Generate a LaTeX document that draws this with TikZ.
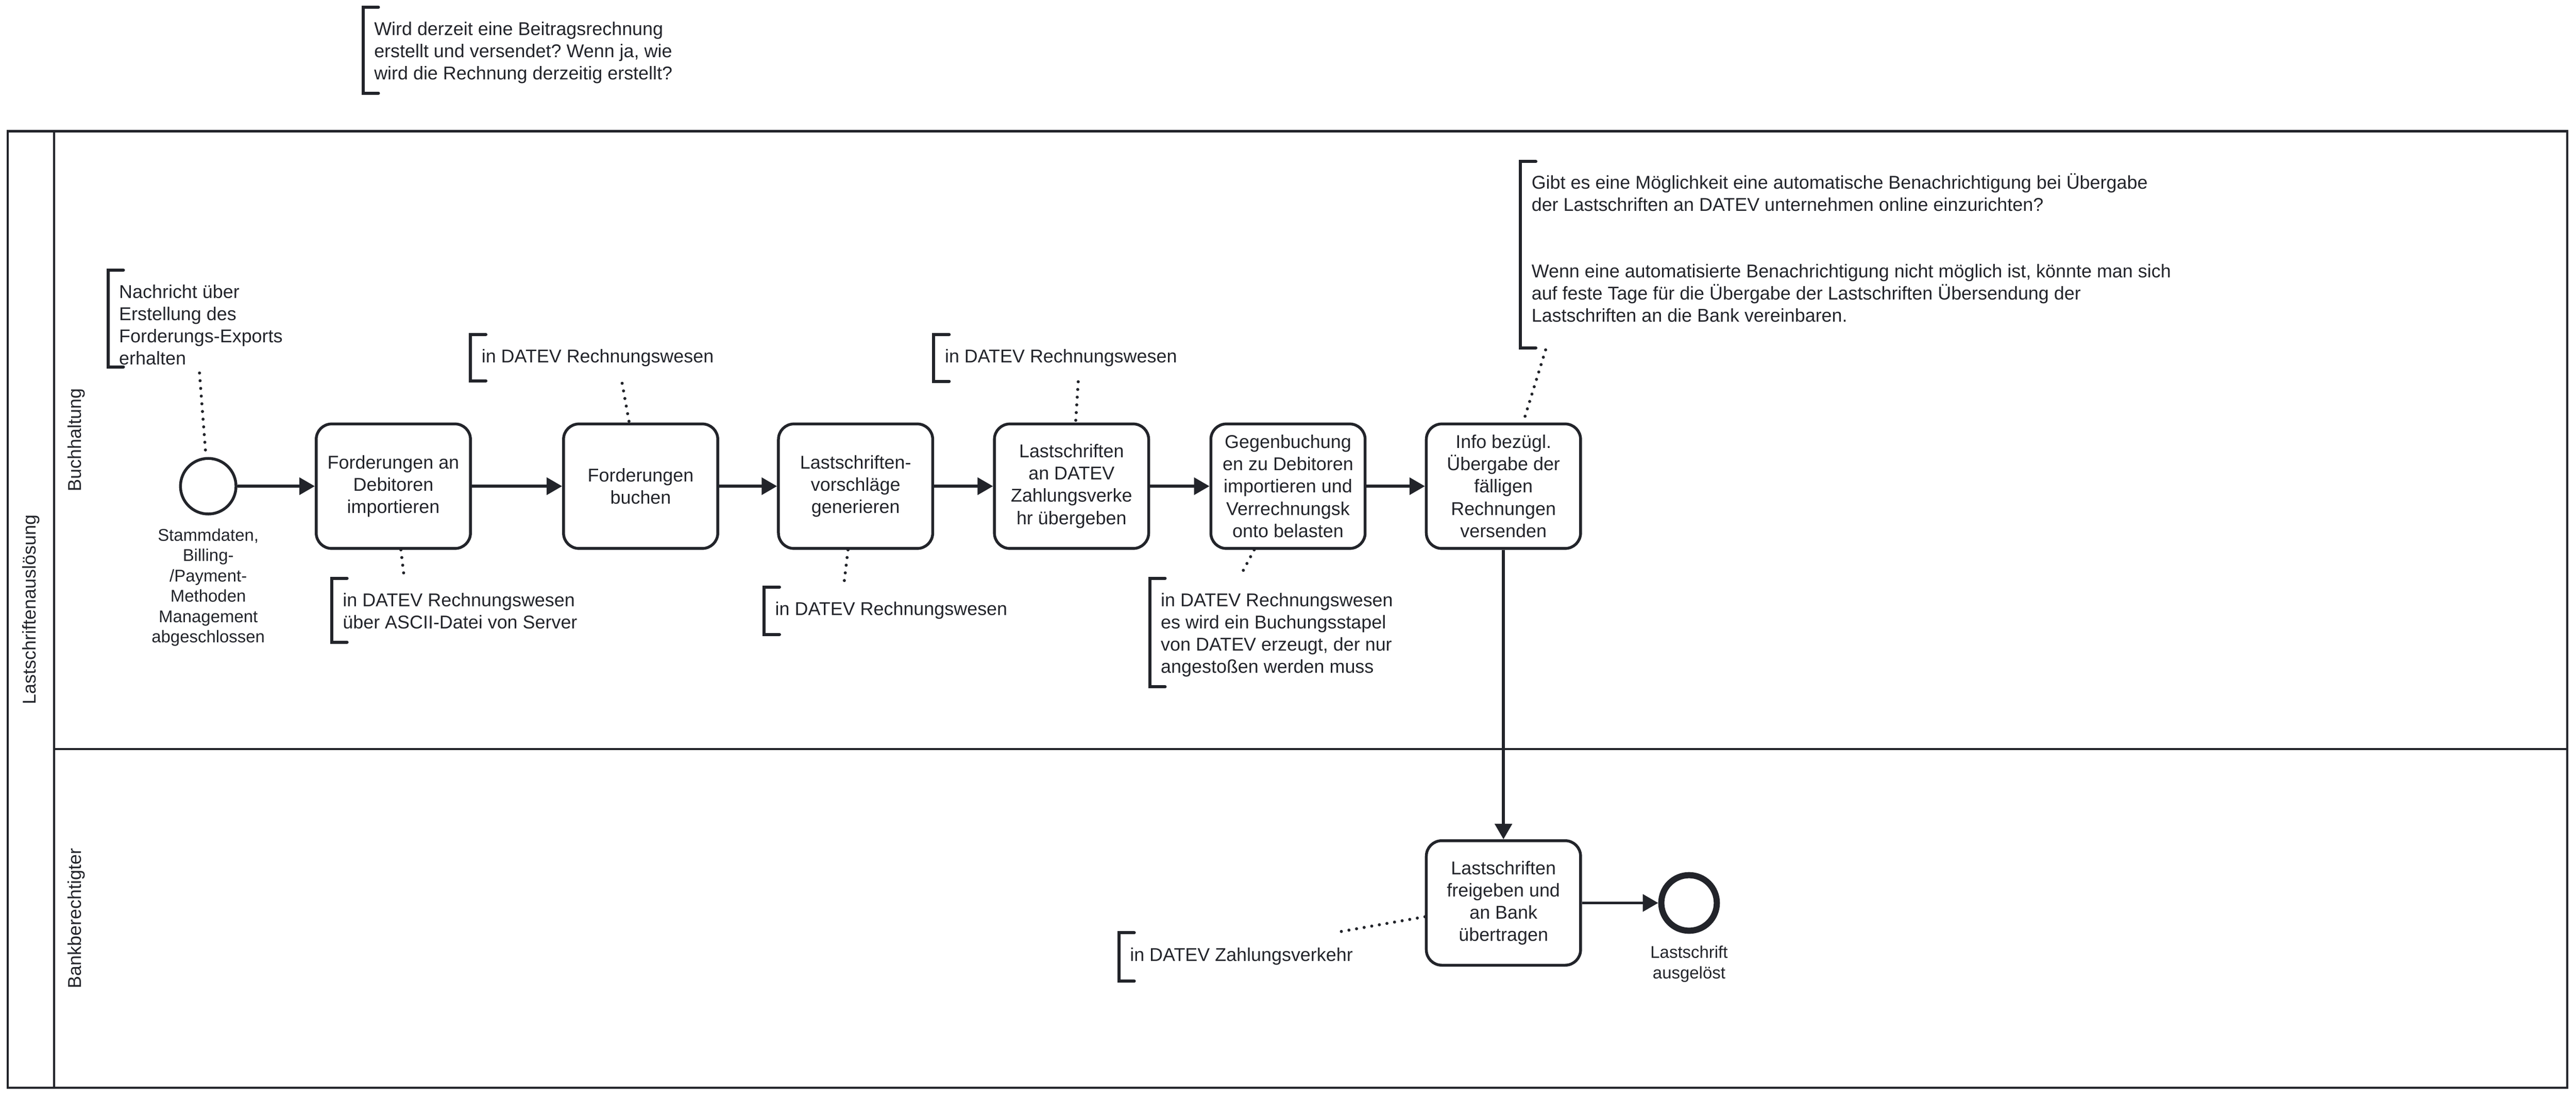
\documentclass[tikz,border=0pt]{standalone}
\usepackage{fontspec}
\setmainfont{Liberation Sans}
\usetikzlibrary{arrows.meta,positioning}
\frenchspacing

\definecolor{ink}{HTML}{22242A}
\newcommand{\taskfont}{\fontsize{10.24pt}{12.29pt}\selectfont}
\newcommand{\labelfont}{\fontsize{9.39pt}{11.27pt}\selectfont}
\newcommand{\notebracket}[3]{\draw[bracket] (#1+0.3,#2) -- (#1,#2) -- (#1,#3) -- (#1+0.3,#3);}

\begin{document}
\begin{tikzpicture}[
    every node/.style={text=ink, font=\taskfont},
    task/.style={draw=ink, line width=0.055cm, rounded corners=0.3cm, minimum width=3cm, minimum height=2.42cm, align=center, inner sep=0pt},
    startevent/.style={circle, draw=ink, line width=0.055cm, minimum size=1.08cm, inner sep=0pt},
    endevent/.style={circle, draw=ink, line width=0.12cm, minimum size=1.08cm, inner sep=0pt},
    evlabel/.style={font=\labelfont, align=center, inner sep=0pt},
    note/.style={anchor=north west, align=left, inner sep=0pt},
    bracket/.style={draw=ink, line width=0.06cm, line cap=round},
    flow/.style={draw=ink, line width=0.055cm, -{Triangle[length=0.30cm, width=0.33cm]}},
    assoc/.style={draw=ink, line width=0.06cm, line cap=round, dash pattern=on 0pt off 0.15cm},
    pool/.style={draw=ink, line width=0.045cm}
  ]
    \useasboundingbox (0,0) rectangle (50.10,-21.30);

    % Pool and lanes
    \draw[pool] (0.15,-2.55) rectangle (49.93,-21.14);
    \draw[pool] (1.05,-2.55) -- (1.05,-21.14);
    \draw[pool] (1.05,-14.56) -- (49.93,-14.56);
    \node[rotate=90] (poolname) at (0.60,-11.85) {Lastschriftenauslösung};
    \node[rotate=90] (lane1) at (1.49,-8.55) {Buchhaltung};
    \node[rotate=90] (lane2) at (1.49,-17.85) {Bankberechtigter};

    % Nodes
    \node[startevent] (start) at (4.05,-9.45) {};
    \node[evlabel, below=0.25cm of start] (startlabel) {Stammdaten,\\Billing-\\/Payment-\\Methoden\\Management\\abgeschlossen};
    \node[task] (t1) at (7.65,-9.45) {Forderungen an\\Debitoren\\importieren};
    \node[task] (t2) at (12.46,-9.45) {Forderungen\\buchen};
    \node[task] (t3) at (16.64,-9.45) {Lastschriften-\\vorschläge\\generieren};
    \node[task] (t4) at (20.84,-9.45) {Lastschriften\\an DATEV\\Zahlungsverke\\hr übergeben};
    \node[task] (t5) at (25.05,-9.45) {Gegenbuchung\\en zu Debitoren\\importieren und\\Verrechnungsk\\onto belasten};
    \node[task] (t6) at (29.24,-9.45) {Info bezügl.\\Übergabe der\\fälligen\\Rechnungen\\versenden};
    \node[task] (t7) at (29.24,-17.55) {Lastschriften\\freigeben und\\an Bank\\übertragen};
    \node[endevent] (stop) at (32.85,-17.55) {};
    \node[evlabel, below=0.23cm of stop] (stoplabel) {Lastschrift\\ausgelöst};

    % Annotations
    \notebracket{7.06}{-0.14}{-1.81}
    \node[note] (q0) at (7.27,-0.42) {Wird derzeit eine Beitragsrechnung\\erstellt und versendet? Wenn ja, wie\\wird die Rechnung derzeitig erstellt?};
    \notebracket{2.10}{-5.25}{-7.13}
    \node[note] (q1) at (2.31,-5.53) {Nachricht über\\Erstellung des\\Forderungs-Exports\\erhalten};
    \notebracket{9.15}{-6.50}{-7.40}
    \node[note] (q2) at (9.36,-6.78) {in DATEV Rechnungswesen};
    \notebracket{6.45}{-11.24}{-12.48}
    \node[note] (q3) at (6.66,-11.52) {in DATEV Rechnungswesen\\über ASCII-Datei von Server};
    \notebracket{18.16}{-6.50}{-7.41}
    \node[note] (q4) at (18.37,-6.78) {in DATEV Rechnungswesen};
    \notebracket{14.86}{-11.41}{-12.33}
    \node[note] (q5) at (15.07,-11.69) {in DATEV Rechnungswesen};
    \notebracket{22.36}{-11.24}{-13.35}
    \node[note] (q6) at (22.57,-11.52) {in DATEV Rechnungswesen\\es wird ein Buchungsstapel\\von DATEV erzeugt, der nur\\angestoßen werden muss};
    \notebracket{29.57}{-3.14}{-6.76}
    \node[note] (q7) at (29.78,-3.36) {Gibt es eine Möglichkeit eine automatische Benachrichtigung bei Übergabe\\der Lastschriften an DATEV unternehmen online einzurichten?\\\mbox{}\\\mbox{}\\Wenn eine automatisierte Benachrichtigung nicht möglich ist, könnte man sich\\auf feste Tage für die Übergabe der Lastschriften Übersendung der\\Lastschriften an die Bank vereinbaren.};
    \notebracket{21.76}{-18.13}{-19.07}
    \node[note] (q8) at (21.97,-18.41) {in DATEV Zahlungsverkehr};

    \coordinate (n1) at (3.88,-7.25);
    \coordinate (n2) at (12.10,-7.45);
    \coordinate (n3) at (7.86,-11.22);
    \coordinate (n4) at (20.97,-7.42);
    \coordinate (n5) at (16.41,-11.38);
    \coordinate (n6) at (24.13,-11.18);
    \coordinate (n7) at (30.06,-6.80);
    \coordinate (n8) at (25.94,-18.13);

    % Edges
    \draw[flow] (start) -- (t1);
    \draw[flow] (t1) -- (t2);
    \draw[flow] (t2) -- (t3);
    \draw[flow] (t3) -- (t4);
    \draw[flow] (t4) -- (t5);
    \draw[flow] (t5) -- (t6);
    \draw[flow] (t6) -- (t7);
    \draw[flow] (t7) -- (stop);

    % Associations
    \draw[assoc] (n1) -- (start);
    \draw[assoc] (n2) -- (t2);
    \draw[assoc] (t1) -- (n3);
    \draw[assoc] (n4) -- (t4);
    \draw[assoc] (t3) -- (n5);
    \draw[assoc] (t5) -- (n6);
    \draw[assoc] (n7) -- (t6);
    \draw[assoc] (t7) -- (n8);
\end{tikzpicture}
\end{document}
